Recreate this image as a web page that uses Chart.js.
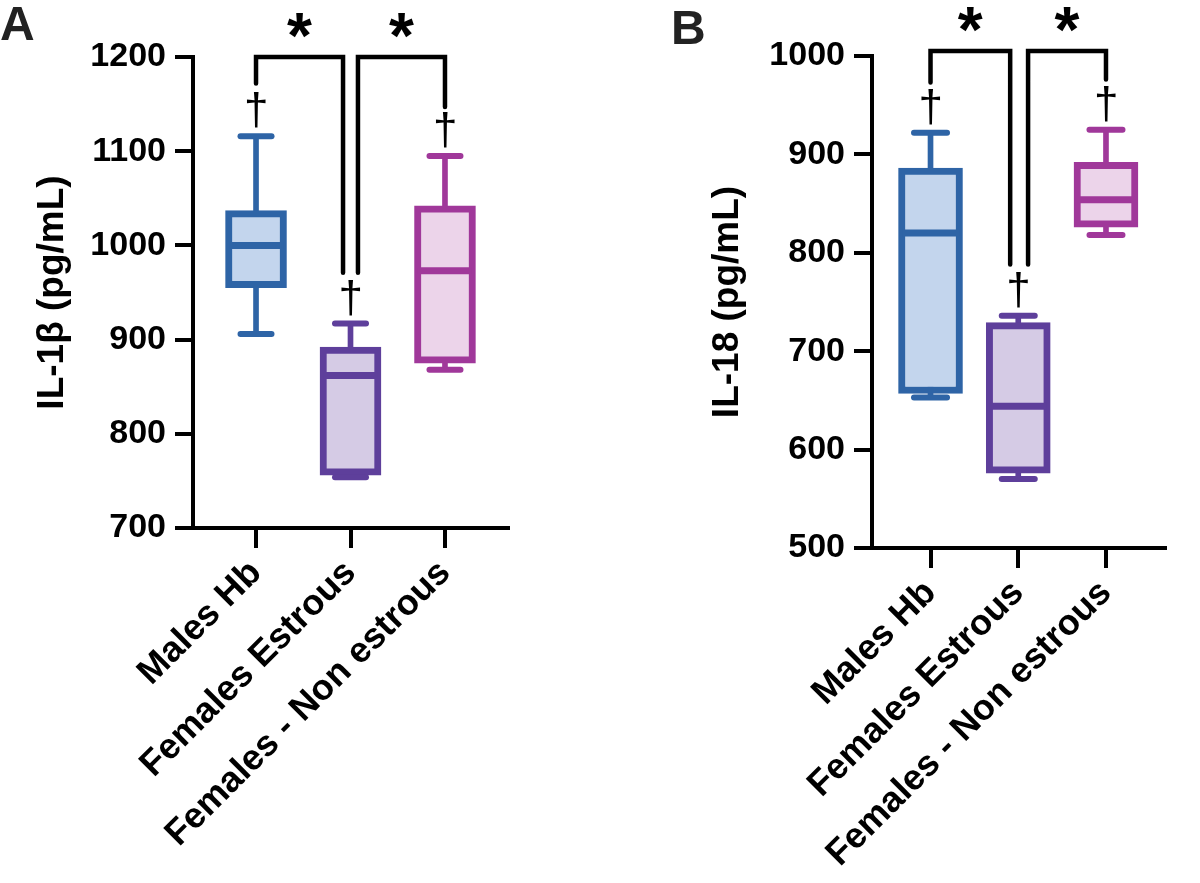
<!DOCTYPE html>
<html><head><meta charset="utf-8">
<script src="https://cdn.jsdelivr.net/npm/chart.js@4.4.1/dist/chart.umd.min.js"></script>
<style>
html,body{margin:0;padding:0;background:#fff;}
#wrap{position:relative;width:1200px;height:883px;overflow:hidden;background:#fff;}
.panel{position:absolute;top:0;}
.lbl{position:absolute;font:bold 48px "Liberation Sans",Arial,sans-serif;color:#222;line-height:56px;}
</style></head><body>
<div id="wrap">
<div class="panel" style="left:0;width:580px;height:883px"><canvas id="cA" width="580" height="883"></canvas></div>
<div class="panel" style="left:580px;width:620px;height:883px"><canvas id="cB" width="620" height="883"></canvas></div>
<div class="lbl" style="left:0px;top:-4px">A</div>
<div class="lbl" style="left:671px;top:0px">B</div>
</div>
<script>
// ---- data ----
const categories = ['Males Hb', 'Females Estrous', 'Females - Non estrous'];
// Panel A: IL-1β (pg/mL)
const a_min = [906, 754, 868];
const a_q1  = [955, 756, 875];
const a_med = [1000, 862, 973];
const a_q3  = [1037, 892, 1042];
const a_max = [1116, 917, 1095];
const a_ticks = [700, 800, 900, 1000, 1100, 1200];
// significance brackets A: [x start, x end, top value, left leg end, right leg end]
const a_brackets = [[0, 0.921, 1200, 1172, 971], [1.079, 2.0, 1200, 971, 1147]];
// Panel B: IL-18 (pg/mL)
const b_min = [653, 570, 818];
const b_q1  = [657, 576, 826];
const b_med = [820, 644, 854];
const b_q3  = [886, 729, 892];
const b_max = [922, 736, 925];
const b_ticks = [500, 600, 700, 800, 900, 1000];
const b_brackets = [[0, 0.908, 1005, 973, 788], [1.112, 2.0, 1005, 788, 976]];

const strokes = ['#2e64a6', '#5e3f9b', '#a0389a'];
const fills   = ['#c3d5ed', '#d5cbe5', '#ecd4ea'];
const FONT = '"Liberation Sans", Arial, Helvetica, sans-serif';
Chart.defaults.font.family = FONT;
Chart.defaults.color = '#000';

const annot = {
  id: 'annot',
  beforeDatasetDraw(chart, args) {
    if (args.index === 3) chart.ctx.lineCap = 'round';
  },
  afterDatasetDraw(chart, args) {
    chart.ctx.lineCap = 'butt';
  },
  afterDatasetsDraw(chart, args, opts) {
    const ctx = chart.ctx, xs = chart.scales.x, ys = chart.scales.y;
    ctx.save();
    ctx.strokeStyle = '#000'; ctx.lineWidth = 4.5; ctx.lineCap = 'round'; ctx.lineJoin = 'miter';
    opts.brackets.forEach(b => {
      const x1 = xs.getPixelForValue(b[0]), x2 = xs.getPixelForValue(b[1]);
      const yt = ys.getPixelForValue(b[2]);
      ctx.beginPath();
      ctx.moveTo(x1, ys.getPixelForValue(b[3]));
      ctx.lineTo(x1, yt); ctx.lineTo(x2, yt);
      ctx.lineTo(x2, ys.getPixelForValue(b[4]));
      ctx.stroke();
      ctx.fillStyle = '#000';
      ctx.font = 'bold 64px ' + FONT;
      const m = ctx.measureText('*');
      const cx = (x1 + x2) / 2, cy = yt - 32;
      ctx.textAlign = 'left'; ctx.textBaseline = 'alphabetic';
      const w = m.actualBoundingBoxLeft + m.actualBoundingBoxRight;
      const h = m.actualBoundingBoxAscent + m.actualBoundingBoxDescent;
      ctx.fillText('*', cx - w / 2 + m.actualBoundingBoxLeft, cy + h / 2 - m.actualBoundingBoxDescent);
    });
    ctx.font = '44px ' + FONT;
    const dm = ctx.measureText('\u2020');
    const dh = dm.actualBoundingBoxAscent + dm.actualBoundingBoxDescent;
    const dw = dm.actualBoundingBoxLeft + dm.actualBoundingBoxRight;
    opts.max.forEach((v, i) => {
      const cx = xs.getPixelForValue(i), cy = ys.getPixelForValue(v) - 26;
      ctx.fillText('\u2020', cx - dw / 2 + dm.actualBoundingBoxLeft, cy + dh / 2 - dm.actualBoundingBoxDescent);
    });
    ctx.restore();
  }
};

function makeChart(id, d, cfg) {
  const idx = categories.map((c, i) => i);
  return new Chart(document.getElementById(id), {
    type: 'bar',
    data: {
      datasets: [
        { type: 'bar', data: idx.map(i => ({x: i, y: [d.min[i], d.max[i]]})),
          backgroundColor: strokes, borderWidth: 0, barThickness: 5, grouped: false, order: 5 },
        { type: 'bar', data: idx.map(i => ({x: i, y: [d.q1[i], d.q3[i]]})),
          backgroundColor: fills, borderColor: strokes, borderWidth: 7, borderSkipped: false,
          barThickness: cfg.boxW, grouped: false, order: 4 },
        { type: 'scatter', data: idx.map(i => ({x: i, y: d.med[i]})),
          pointStyle: 'line', pointRadius: cfg.boxW / 2 - 3.5, pointBorderWidth: 7,
          pointBorderColor: strokes, order: 1 },
        { type: 'scatter', data: idx.map(i => ({x: i, y: d.min[i]})).concat(idx.map(i => ({x: i, y: d.max[i]}))),
          pointStyle: 'line', pointRadius: cfg.capW / 2 - 3, pointBorderWidth: 6,
          pointBorderColor: strokes.concat(strokes), order: 0 }
      ]
    },
    options: {
      responsive: false, animation: false,
      layout: { padding: { left: 0, top: cfg.top, right: cfg.right, bottom: 0 } },
      plugins: { legend: { display: false }, tooltip: { enabled: false },
                 annot: { brackets: cfg.brackets, max: d.max } },
      scales: {
        x: {
          type: 'linear', min: -0.667, max: 2.667, offset: false,
          afterBuildTicks: s => { s.ticks = idx.map(i => ({value: i})); },
          afterFit: s => { s.height = cfg.xH; },
          ticks: { callback: v => categories[v], minRotation: 45, maxRotation: 45, autoSkip: false,
                   font: { size: 36, weight: 'bold' }, color: '#000', padding: 4 },
          grid: { display: true, offset: false, drawOnChartArea: false, drawTicks: true, tickLength: 20,
                  tickWidth: 4, tickColor: '#000', color: '#000', lineWidth: 4 },
          border: { display: true, color: '#000', width: 4 }
        },
        y: {
          min: cfg.yMin, max: cfg.yMax,
          afterBuildTicks: s => { s.ticks = cfg.ticks.map(v => ({value: v})); },
          afterFit: s => { s.width = cfg.yW; },
          ticks: { callback: v => String(v), font: { size: 34, weight: 'bold' }, color: '#000', padding: 9 },
          grid: { display: true, drawOnChartArea: false, drawTicks: true, tickLength: 18,
                  tickWidth: 4, tickColor: '#000', color: '#000', lineWidth: 4 },
          border: { display: true, color: '#000', width: 4 },
          title: { display: true, text: cfg.title, color: '#000',
                   font: { size: 37, weight: 'bold' }, padding: { top: cfg.titlePad, bottom: 0 } }
        }
      }
    },
    plugins: [annot]
  });
}

makeChart('cA', {min: a_min, q1: a_q1, med: a_med, q3: a_q3, max: a_max}, {
  yMin: 700, yMax: 1200, ticks: a_ticks, title: 'IL-1\u03B2 (pg/mL)', brackets: a_brackets,
  top: 57, right: 72, yW: 193, xH: 355, titlePad: 31, boxW: 61, capW: 37
});
makeChart('cB', {min: b_min, q1: b_q1, med: b_med, q3: b_q3, max: b_max}, {
  yMin: 500, yMax: 1000, ticks: b_ticks, title: 'IL-18 (pg/mL)', brackets: b_brackets,
  top: 56, right: 2, yW: 292, xH: 335, titlePad: 126, boxW: 64, capW: 39
});
</script>
</body></html>
